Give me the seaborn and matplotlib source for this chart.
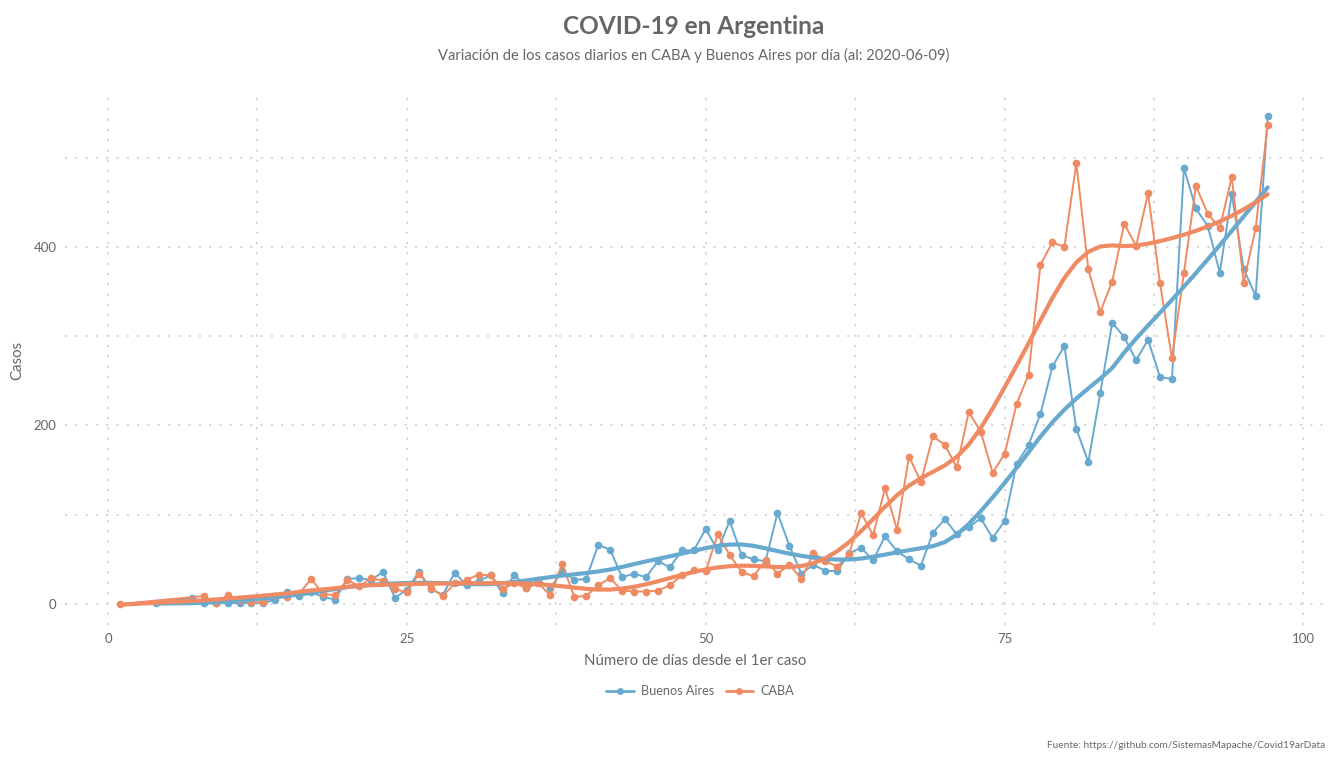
import numpy as np
import pandas as pd
import matplotlib
matplotlib.use("Agg")
import matplotlib.pyplot as plt
from matplotlib.lines import Line2D
from matplotlib.ticker import MultipleLocator
import seaborn as sns

# ---------------- data ----------------
ba_days = [4, 7, 8, 9, 10, 11, 12, 13, 14, 15, 16, 17, 18, 19, 20, 21, 22, 23, 24, 25,
           26, 27, 28, 29, 30, 31, 32, 33, 34, 35, 36, 37, 38, 39, 40, 41, 42, 43, 44, 45,
           46, 47, 48, 49, 50, 51, 52, 53, 54, 55, 56, 57, 58, 59, 60, 61, 62, 63, 64, 65,
           66, 67, 68, 69, 70, 71, 72, 73, 74, 75, 76, 77, 78, 79, 80, 81, 82, 83, 84, 85,
           86, 87, 88, 89, 90, 91, 92, 93, 94, 95, 96, 97]
ba_cases = [1, 7, 1, 1, 1, 1, 1, 1, 5, 13, 9, 13, 8, 5, 28, 29, 27, 36, 7, 16,
            36, 17, 10, 35, 21, 26, 32, 12, 33, 18, 27, 18, 37, 27, 28, 66, 61, 30, 34, 30,
            48, 41, 60, 60, 84, 60, 93, 55, 50, 48, 102, 65, 34, 44, 37, 37, 57, 63, 49, 76,
            59, 50, 43, 80, 95, 78, 86, 96, 74, 93, 157, 178, 213, 266, 289, 196, 159, 236, 315, 299,
            273, 296, 254, 252, 488, 443, 423, 371, 459, 375, 345, 546]

caba_days = [1, 8, 9, 10, 11, 12, 13, 14, 15, 16, 17, 18, 19, 20, 21, 22, 23, 24, 25,
             26, 27, 28, 29, 30, 31, 32, 33, 34, 35, 36, 37, 38, 39, 40, 41, 42, 43, 44, 45,
             46, 47, 48, 49, 50, 51, 52, 53, 54, 55, 56, 57, 58, 59, 60, 61, 62, 63, 64, 65,
             66, 67, 68, 69, 70, 71, 72, 73, 74, 75, 76, 77, 78, 79, 80, 81, 82, 83, 84, 85,
             86, 87, 88, 89, 90, 91, 92, 93, 94, 95, 96, 97]
caba_cases = [0, 9, 1, 10, 5, 2, 2, 9, 8, 12, 28, 11, 10, 27, 20, 29, 26, 17, 13,
              34, 18, 9, 23, 27, 33, 32, 17, 23, 18, 23, 10, 45, 8, 9, 21, 29, 15, 14, 14,
              15, 21, 32, 38, 37, 78, 55, 36, 31, 49, 34, 44, 28, 57, 48, 42, 56, 102, 77, 130,
              83, 165, 137, 188, 178, 153, 215, 193, 147, 168, 224, 257, 380, 405, 400, 494, 375, 327, 361, 426,
              401, 460, 359, 275, 371, 468, 437, 421, 478, 360, 421, 536]

series_names = ["Buenos Aires", "CABA"]
series_colors = ["#67a9cf", "#ef8a62"]

title = "COVID-19 en Argentina"
subtitle = "Variación de los casos diarios en CABA y Buenos Aires por día (al: 2020-06-09)"
xlabel = "Número de días desde el 1er caso"
ylabel = "Casos"
source = "Fuente: https://github.com/SistemasMapache/Covid19arData"


def loess(x, y, span=0.3, deg=2):
    x = np.asarray(x, float)
    y = np.asarray(y, float)
    n = len(x)
    q = max(int(np.floor(span * n)), deg + 2)
    out = np.empty(n)
    for i, x0 in enumerate(x):
        d = np.abs(x - x0)
        h = np.sort(d)[q - 1] * 1.0001
        w = np.clip(1 - (d / h) ** 3, 0, None) ** 3
        X = np.vander(x - x0, deg + 1)
        W = np.sqrt(w)
        coef, *_ = np.linalg.lstsq(X * W[:, None], y * W, rcond=None)
        out[i] = coef[-1]
    return out


frames = []
for name, d, c in [(series_names[0], ba_days, ba_cases), (series_names[1], caba_days, caba_cases)]:
    df = pd.DataFrame({"dia": d, "casos": c, "serie": name})
    df["suave"] = loess(df["dia"], df["casos"], span=0.3)
    frames.append(df)
data = pd.concat(frames, ignore_index=True)

# ---------------- style ----------------
sns.set_theme(style="white")
plt.rcParams["font.family"] = ["Lato", "DejaVu Sans"]
grey = "#666666"

fig = plt.figure(figsize=(13.44, 7.68), dpi=100)
ax = fig.add_axes([65 / 1344, 1 - 625 / 768, (1325 - 65) / 1344, (625 - 95) / 768])

palette = dict(zip(series_names, series_colors))
sns.lineplot(data=data, x="dia", y="casos", hue="serie", palette=palette, marker="o",
             markersize=5.5, markeredgewidth=0, linewidth=1.4, legend=False, ax=ax,
             zorder=3, estimator=None)
sns.lineplot(data=data, x="dia", y="suave", hue="serie", palette=palette,
             linewidth=3, legend=False, ax=ax, zorder=4, estimator=None)

ax.set_xlim(-3.6, 101.8)
ax.set_ylim(-23.5, 570)
ax.xaxis.set_major_locator(MultipleLocator(25))
ax.xaxis.set_minor_locator(MultipleLocator(12.5))
ax.yaxis.set_major_locator(MultipleLocator(200))
ax.yaxis.set_minor_locator(MultipleLocator(100))
ax.grid(which="both", color="#d4d4d4", linestyle=(0, (1.2, 4.5)), linewidth=1.3)
for s in ax.spines.values():
    s.set_visible(False)
ax.tick_params(which="both", length=0, labelsize=9.5, colors=grey, pad=6)
ax.set_axisbelow(True)

ax.set_xlabel(xlabel, fontsize=10.8, color=grey, labelpad=6)
ax.set_ylabel(ylabel, fontsize=10.8, color=grey)
ax.yaxis.set_label_coords((24 - 65) / 1260, 0.5)

cx = 694 / 1344
fig.text(cx, 1 - 27 / 768, title, ha="center", va="center", fontsize=17.6,
         fontweight="bold", color=grey)
fig.text(cx, 1 - 55 / 768, subtitle, ha="center", va="center", fontsize=10.6, color=grey)
fig.text(1325 / 1344, 1 - 746 / 768, source, ha="right", va="center", fontsize=7.3, color=grey)

handles = [Line2D([0], [0], color=c, marker="o", markersize=5, markeredgewidth=0,
                  linewidth=2) for c in series_colors]
fig.legend(handles, series_names, loc="center", bbox_to_anchor=(700 / 1344, 1 - 691 / 768),
           ncol=2, frameon=False, fontsize=9.1, labelcolor=grey, handlelength=2.2,
           columnspacing=0.9, handletextpad=0.55)

fig.savefig("out.png", dpi=100)
